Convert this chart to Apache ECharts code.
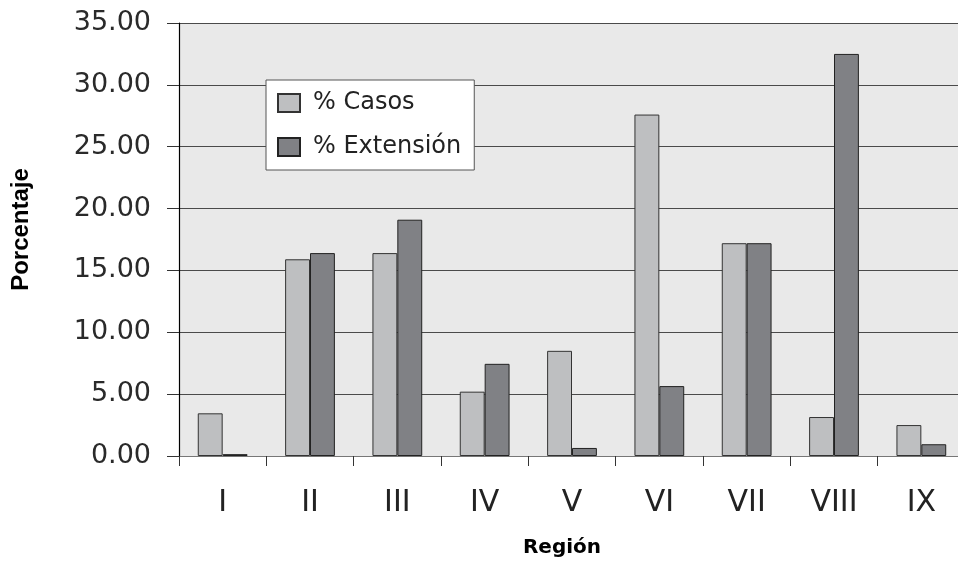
<!DOCTYPE html>
<html>
<head>
<meta charset="utf-8">
<script src="https://cdn.jsdelivr.net/npm/echarts@6/dist/echarts.min.js"></script>
<style>
  html, body { margin: 0; padding: 0; background: #fff; overflow: hidden; }
  #chart { width: 965px; height: 569px; }
</style>
</head>
<body>
<div id="chart"></div>
<script>
var regiones = ['I', 'II', 'III', 'IV', 'V', 'VI', 'VII', 'VIII', 'IX'];
var casos = [3.45, 15.9, 16.4, 5.2, 8.5, 27.6, 17.2, 3.15, 2.5];
var extension = [0.15, 16.4, 19.1, 7.45, 0.65, 5.65, 17.2, 32.5, 0.95];
var serieNames = ['% Casos', '% Extensión'];

// the original plot runs a few pixels past the right edge of the picture
var chart = echarts.init(document.getElementById('chart'));

var option = {
    animation: false,
    grid: {
        left: 179,
        right: 0,
        top: 23,
        bottom: 113,
        show: true,
        backgroundColor: '#e9e9e9',
        borderWidth: 0
    },
    legend: {
        orient: 'vertical',
        left: 266,
        top: 80,
        padding: [11, 13, 11, 11],
        itemGap: 20,
        itemWidth: 22,
        itemHeight: 18,
        backgroundColor: '#fff',
        borderColor: '#555',
        borderWidth: 1,
        icon: 'rect',
        data: serieNames,
        textStyle: {
            fontFamily: 'DejaVu Sans',
            fontSize: 24,
            color: '#222',
            padding: [0, 0, 0, 8]
        }
    },
    xAxis: {
        type: 'category',
        data: regiones,
        name: 'Región',
        nameLocation: 'middle',
        nameGap: 82,
        nameTextStyle: {
            fontFamily: 'DejaVu Sans',
            fontWeight: 'bold',
            fontSize: 20,
            color: '#000',
            padding: [0, 20, 0, 0]
        },
        axisLine: { lineStyle: { color: '#777', width: 1 } },
        axisTick: { show: true, length: 10, lineStyle: { color: '#333' } },
        axisLabel: {
            margin: 32,
            fontFamily: 'DejaVu Sans',
            fontSize: 30,
            color: '#222'
        }
    },
    yAxis: {
        type: 'value',
        min: 0,
        max: 35,
        interval: 5,
        name: 'Porcentaje',
        nameLocation: 'middle',
        nameGap: 146,
        nameTextStyle: {
            fontFamily: 'Liberation Sans',
            fontWeight: 'bold',
            fontSize: 24,
            color: '#000',
            padding: [0, 0, 0, 20]
        },
        axisLine: { show: true, lineStyle: { color: '#000', width: 1.2 } },
        axisTick: { show: true, length: 12, lineStyle: { color: '#333' } },
        axisLabel: {
            margin: 28,
            fontFamily: 'DejaVu Sans',
            fontSize: 27,
            color: '#2a2a2a',
            formatter: function (v) { return v.toFixed(2); }
        },
        splitLine: { lineStyle: { color: '#4a4a4a', width: 1.2 } }
    },
    series: [
        {
            name: serieNames[0],
            type: 'bar',
            data: casos,
            barGap: '0%',
            barCategoryGap: '43%',
            itemStyle: { color: '#bebfc1', borderColor: '#333', borderWidth: 1 }
        },
        {
            name: serieNames[1],
            type: 'bar',
            data: extension,
            itemStyle: { color: '#808185', borderColor: '#222', borderWidth: 1 }
        }
    ]
};

chart.setOption(option);
</script>
</body>
</html>
